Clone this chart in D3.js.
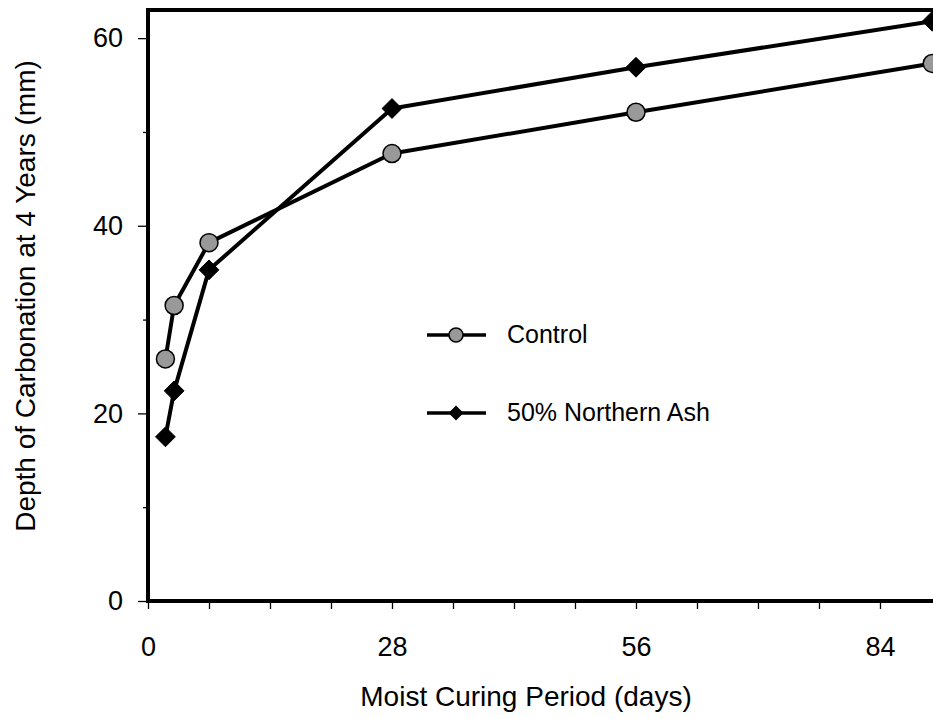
<!DOCTYPE html>
<html>
<head>
<meta charset="utf-8">
<script src="https://cdn.jsdelivr.net/npm/d3@7"></script>
<style>
  body { margin: 0; background: #fff; }
  text { font-family: "Liberation Sans", Arial, sans-serif; fill: #000; }
</style>
</head>
<body>
<div id="chart"></div>
<script>
// values
let days = [2, 3, 7, 28, 56, 90];
let control = [25.8, 31.5, 38.2, 47.7, 52.1, 57.3];
let northernAsh = [17.5, 22.4, 35.3, 52.5, 56.9, 61.8];
let seriesNames = ["Control", "50% Northern Ash"];
let xTicks = [0, 28, 56, 84];
let xMinor = [7, 14, 21, 35, 42, 49, 63, 70, 77];
let yTicks = [0, 20, 40, 60];
let yMinor = [10, 30, 50];

let dim = { width: 933, height: 719, left: 148, top: 10, bottom: 601 };

let x = d3.scaleLinear()
        .domain([0, 98])
        .range([dim.left, dim.left + 98 * 8.714]);

let y = d3.scaleLinear()
        .domain([0, 63])
        .range([dim.bottom, dim.top]);

let svg = d3.select("#chart").append("svg")
        .attr("width", dim.width)
        .attr("height", dim.height);

let tickFont = 27, titleFont = 28, legendFont = 25;

// y axis: major + minor ticks
let yAxis = d3.axisLeft(y).tickValues(yTicks).tickSize(10).tickPadding(15);
let gy = svg.append("g")
        .attr("transform", "translate(" + dim.left + ",0)")
        .call(yAxis);
gy.select(".domain").remove();
gy.selectAll(".tick line").attr("stroke", "#000").attr("stroke-width", 1.3);
gy.selectAll(".tick text").style("font-size", tickFont + "px");

let gyMinor = svg.append("g")
        .attr("transform", "translate(" + dim.left + ",0)")
        .call(d3.axisLeft(y).tickValues(yMinor).tickSize(5).tickFormat(""));
gyMinor.select(".domain").remove();
gyMinor.selectAll(".tick line").attr("stroke", "#000").attr("stroke-width", 1.3);

// x axis
let xAxis = d3.axisBottom(x).tickValues(xTicks).tickSize(8).tickPadding(28);
let gx = svg.append("g")
        .attr("transform", "translate(0," + dim.bottom + ")")
        .call(xAxis);
gx.select(".domain").remove();
gx.selectAll(".tick line").attr("stroke", "#000").attr("stroke-width", 1.3);
gx.selectAll(".tick text").style("font-size", tickFont + "px");

let gxMinor = svg.append("g")
        .attr("transform", "translate(0," + dim.bottom + ")")
        .call(d3.axisBottom(x).tickValues(xMinor).tickSize(8).tickFormat(""));
gxMinor.select(".domain").remove();
gxMinor.selectAll(".tick line").attr("stroke", "#000").attr("stroke-width", 1.3);

// plot frame (right side runs off the canvas)
svg.append("rect")
        .attr("x", x(0))
        .attr("y", y(63))
        .attr("width", x(98) - x(0))
        .attr("height", y(0) - y(63))
        .attr("fill", "none")
        .attr("stroke", "#000")
        .attr("stroke-width", 4);

// axis titles
svg.append("text")
        .attr("x", 526)
        .attr("y", 706)
        .attr("text-anchor", "middle")
        .style("font-size", titleFont + "px")
        .text("Moist Curing Period (days)");

svg.append("text")
        .attr("transform", "translate(35,296) rotate(-90)")
        .attr("text-anchor", "middle")
        .style("font-size", titleFont + "px")
        .text("Depth of Carbonation at 4 Years (mm)");

// series
let line = d3.line()
        .x(d => x(d[0]))
        .y(d => y(d[1]));

let controlData = days.map((d, i) => [d, control[i]]);
let ashData = days.map((d, i) => [d, northernAsh[i]]);

let diamond = d3.symbol().type(d3.symbolDiamond2);

function drawSeries(data, kind) {
  svg.append("path")
        .datum(data)
        .attr("d", line)
        .attr("fill", "none")
        .attr("stroke", "#000")
        .attr("stroke-width", 4)
        .attr("stroke-linejoin", "round");

  if (kind === "circle") {
    svg.append("g").selectAll("circle")
        .data(data)
      .enter().append("circle")
        .attr("cx", d => x(d[0]))
        .attr("cy", d => y(d[1]))
        .attr("r", 9)
        .attr("fill", "#999")
        .attr("stroke", "#000")
        .attr("stroke-width", 1.5);
  } else {
    svg.append("g").selectAll("path")
        .data(data)
      .enter().append("path")
        .attr("transform", d => "translate(" + x(d[0]) + "," + y(d[1]) + ")")
        .attr("d", diamond.size(250))
        .attr("fill", "#000")
        .attr("stroke", "#000")
        .attr("stroke-width", 1);
  }
}

drawSeries(controlData, "circle");
drawSeries(ashData, "diamond");

// legend
let legendY = [335, 413];
let legend = svg.append("g");
legendY.forEach(function(ly, i) {
  legend.append("line")
        .attr("x1", 427).attr("x2", 486)
        .attr("y1", ly).attr("y2", ly)
        .attr("stroke", "#000")
        .attr("stroke-width", 3.5);
  if (i === 0) {
    legend.append("circle")
        .attr("cx", 456).attr("cy", ly)
        .attr("r", 7)
        .attr("fill", "#999")
        .attr("stroke", "#000")
        .attr("stroke-width", 1.5);
  } else {
    legend.append("path")
        .attr("transform", "translate(456," + ly + ")")
        .attr("d", diamond.size(143))
        .attr("fill", "#000");
  }
  legend.append("text")
        .attr("x", 507)
        .attr("y", ly + 8)
        .style("font-size", legendFont + "px")
        .text(seriesNames[i]);
});
</script>
</body>
</html>
